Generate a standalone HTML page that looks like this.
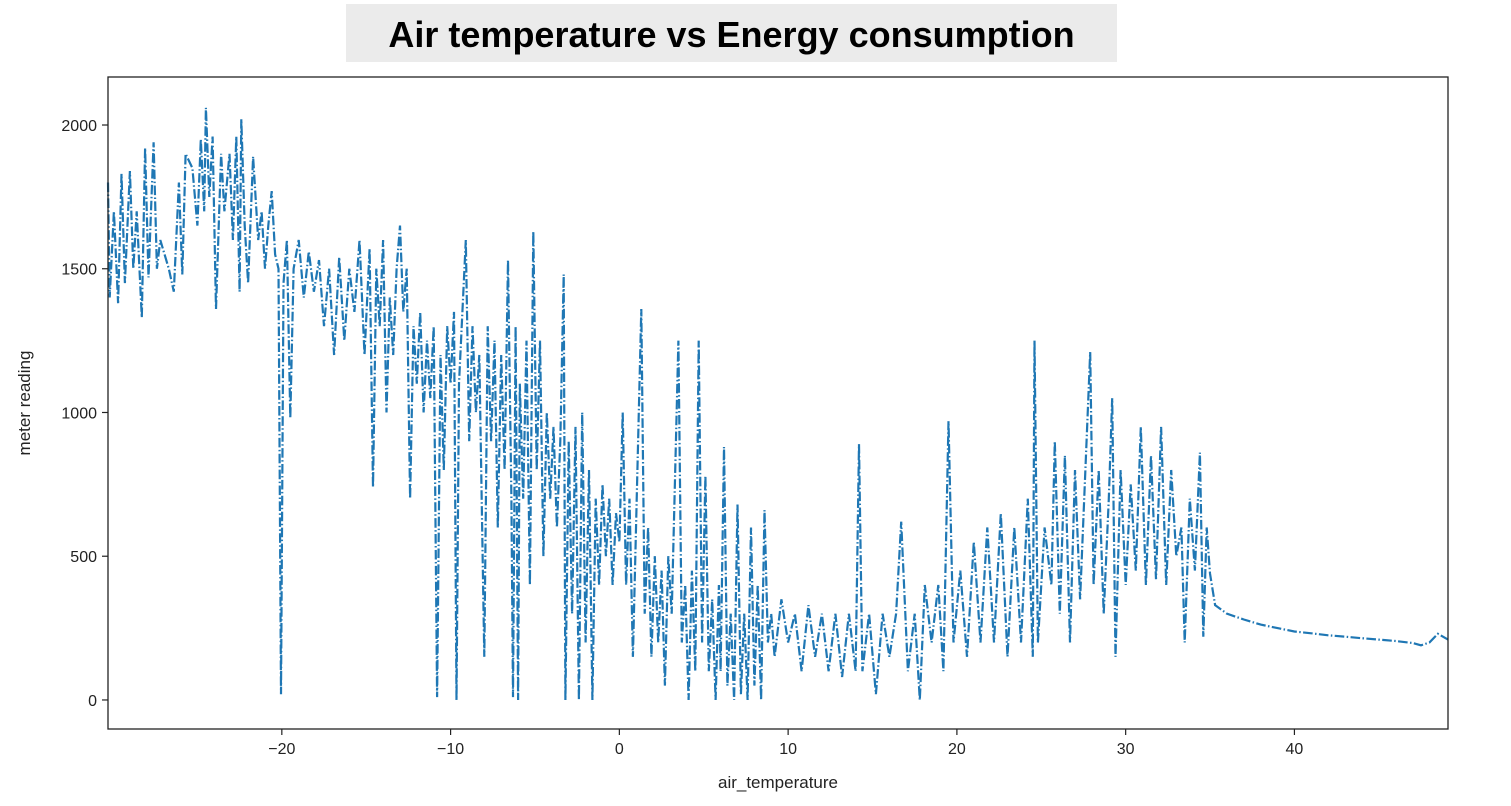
<!DOCTYPE html>
<html><head><meta charset="utf-8">
<style>
body{margin:0;background:#fff;width:1511px;height:806px;overflow:hidden;font-family:"Liberation Sans",sans-serif;}
#title{position:absolute;left:346px;top:4px;width:771px;height:58px;background:#ebebeb;font-weight:bold;font-size:36px;text-align:center;line-height:62px;color:#000;}
svg{position:absolute;left:0;top:0;}
</style></head><body>
<div id="title">Air temperature vs Energy consumption</div>
<svg id="chart" width="1511" height="806"></svg>
<script>
const temps=[
-30.3,-30.2,-29.95,-29.7,-29.5,-29.3,-29.0,-28.8,-28.6,-28.3,
-28.1,-27.9,-27.6,-27.4,-27.2,-26.7,-26.4,-26.1,-25.9,-25.7,
-25.3,-25.0,-24.8,-24.6,-24.5,-24.3,-24.1,-23.9,-23.6,-23.4,
-23.1,-22.9,-22.7,-22.5,-22.4,-22.2,-22.0,-21.7,-21.4,-21.2,
-21.0,-20.8,-20.6,-20.4,-20.2,-20.05,-19.9,-19.7,-19.5,-19.3,
-19.0,-18.7,-18.4,-18.1,-17.8,-17.5,-17.2,-16.9,-16.6,-16.3,
-16.0,-15.7,-15.4,-15.1,-14.8,-14.6,-14.4,-14.2,-14.0,-13.8,
-13.6,-13.4,-13.2,-13.0,-12.8,-12.6,-12.4,-12.2,-12.0,-11.8,
-11.6,-11.4,-11.2,-11.0,-10.8,-10.6,-10.4,-10.2,-10.0,-9.8,
-9.65,-9.5,-9.3,-9.1,-8.9,-8.7,-8.5,-8.3,-8.0,-7.8,
-7.6,-7.4,-7.2,-7.0,-6.8,-6.6,-6.4,-6.3,-6.15,-6.0,
-5.9,-5.7,-5.5,-5.3,-5.1,-4.9,-4.7,-4.5,-4.3,-4.1,
-3.9,-3.7,-3.5,-3.3,-3.2,-3.0,-2.8,-2.6,-2.4,-2.2,
-2.0,-1.8,-1.6,-1.4,-1.2,-1.0,-0.8,-0.6,-0.4,-0.2,
0,0.2,0.4,0.6,0.8,1.3,1.5,1.7,1.9,2.1,
2.3,2.5,2.7,2.9,3.1,3.5,3.7,3.9,4.1,4.3,
4.5,4.7,4.9,5.1,5.3,5.5,5.7,5.9,6.0,6.2,
6.4,6.6,6.8,7.0,7.2,7.4,7.6,7.8,8.0,8.2,
8.4,8.6,8.8,9.0,9.2,9.6,10.0,10.4,10.8,11.2,
11.6,12.0,12.4,12.8,13.2,13.6,14.0,14.2,14.4,14.8,
15.2,15.6,16.0,16.4,16.7,17.1,17.5,17.8,18.1,18.5,
18.9,19.2,19.5,19.8,20.2,20.6,21.0,21.4,21.8,22.2,
22.6,23.0,23.4,23.8,24.2,24.5,24.6,24.8,25.2,25.6,
25.8,26.1,26.4,26.7,27.0,27.3,27.9,28.1,28.4,28.7,
29.0,29.2,29.4,29.7,30.0,30.3,30.6,30.9,31.2,31.5,
31.8,32.1,32.4,32.7,33.0,33.3,33.5,33.8,34.1,34.4,
34.6,34.8,35.0,35.3,36,37,38,39,40,41,
42,43,44,45,46,47,47.5,48.0,48.5,49.1];
const readings=[
1800,1400,1700,1380,1830,1450,1840,1500,1700,1330,
1920,1470,1940,1500,1600,1500,1420,1800,1480,1900,
1850,1650,1950,1700,2060,1750,1960,1360,1900,1700,
1900,1600,1960,1420,2020,1650,1450,1890,1600,1700,
1500,1650,1770,1550,1500,20,1450,1600,980,1500,
1600,1400,1560,1420,1530,1300,1500,1200,1540,1250,
1500,1350,1600,1200,1570,740,1500,1300,1600,1000,
1400,1200,1500,1650,1350,1500,700,1300,1100,1350,
1000,1250,1050,1300,10,1200,800,1300,1100,1350,
0,1100,1350,1600,900,1300,1000,1200,150,1300,
900,1250,600,1200,800,1530,700,10,1300,0,
1100,700,1250,400,1630,800,1250,500,1000,700,
950,600,900,1480,0,900,300,950,0,1000,
200,800,0,700,400,750,500,700,400,650,
550,1000,400,700,150,1360,300,600,150,500,
200,450,50,500,300,1250,200,400,0,450,
100,1250,200,780,100,350,0,400,100,880,
50,300,0,680,20,300,0,600,50,400,
0,660,200,300,150,350,200,300,100,330,
150,300,100,300,80,300,100,890,100,300,
20,300,150,300,620,100,300,0,400,200,
400,100,970,200,450,150,550,200,600,200,
650,150,600,200,700,150,1250,200,600,400,
900,300,850,200,800,350,1210,400,800,300,
700,1050,150,800,400,750,450,950,400,850,
420,950,400,800,500,600,200,700,450,860,
220,600,440,330,300,280,262,250,238,232,
225,220,215,210,205,198,190,200,230,210];
const xTicks=[-20,-10,0,10,20,30,40];
const yTicks=[0,500,1000,1500,2000];
const L=108,R=1448,T=77,B=729,xmin=-30.3,xmax=49.1,ymin=-101,ymax=2167;
const sx=v=>L+(v-xmin)/(xmax-xmin)*(R-L);
const sy=v=>B-(v-ymin)/(ymax-ymin)*(B-T);
const NS='http://www.w3.org/2000/svg';
const svg=document.getElementById('chart');
function mk(tag,attrs){const e=document.createElementNS(NS,tag);for(const k in attrs)e.setAttribute(k,attrs[k]);svg.appendChild(e);return e;}
let d='';
const n=Math.min(temps.length,readings.length);
for(let i=0;i<n;i++){d+=(i?'L':'M')+sx(temps[i]).toFixed(1)+','+sy(readings[i]).toFixed(1);}
const line=mk('path',{d:d,fill:'none',stroke:'#1f77b4','stroke-width':2.2,'stroke-dasharray':'9.6,2.4,1.5,2.4'});


const frame=mk('rect',{x:L,y:T,width:R-L,height:B-T,fill:'none',stroke:'#222','stroke-width':1.3});


xTicks.forEach(v=>{
  const tk=mk('line',{x1:sx(v),x2:sx(v),y1:B,y2:B+6,stroke:'#222','stroke-width':1.2});
  
  
  const tx=mk('text',{x:sx(v),y:B+25,'text-anchor':'middle','font-size':16,fill:'#222','font-family':'Liberation Sans, sans-serif'});
  tx.textContent=v<0?'\u2212'+Math.abs(v):String(v);
  
  
});
yTicks.forEach(v=>{
  const tk=mk('line',{x1:L-6,x2:L,y1:sy(v),y2:sy(v),stroke:'#222','stroke-width':1.2});
  
  
  const tx=mk('text',{x:L-11,y:sy(v)+6,'text-anchor':'end','font-size':16,fill:'#222','font-family':'Liberation Sans, sans-serif'});
  tx.textContent=String(v);
  
  
});
const xt=mk('text',{x:(L+R)/2,y:788,'text-anchor':'middle','font-size':17,fill:'#222','font-family':'Liberation Sans, sans-serif'});
xt.textContent='air_temperature';


const yt=mk('text',{x:0,y:0,'text-anchor':'middle','font-size':17,fill:'#222','font-family':'Liberation Sans, sans-serif',transform:'translate(30,403) rotate(-90)'});
yt.textContent='meter reading';


</script>
</body></html>
